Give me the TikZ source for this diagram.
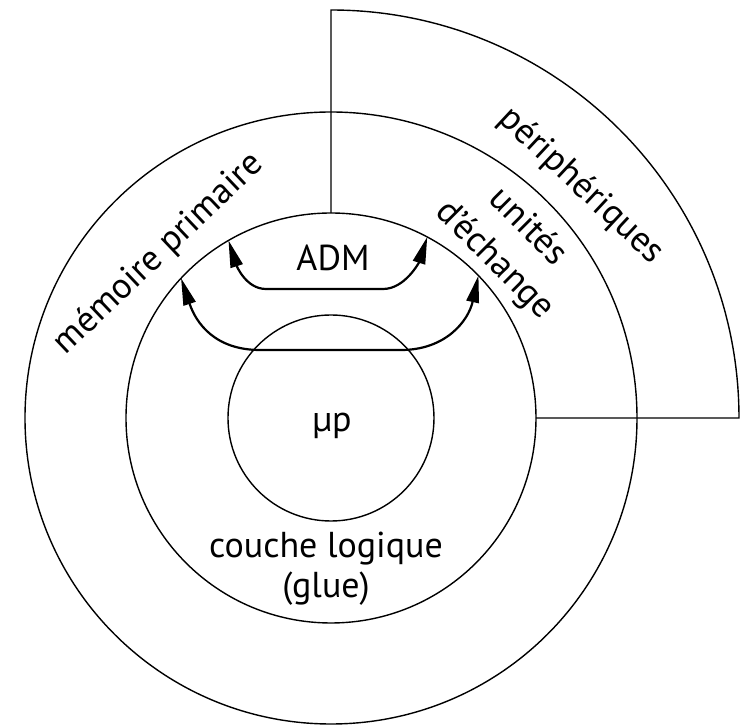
\documentclass[tikz,border=0pt]{standalone}
\usepackage{fontspec}
\setmainfont{PT Sans}
\usetikzlibrary{arrows.meta}
\begin{document}
\begin{tikzpicture}[x=1pt,y=1pt,
  ring/.style={circle, draw, line width=1.4pt, inner sep=0pt, outer sep=0pt},
  edge/.style={line width=1.4pt},
  flow/.style={line width=2.2pt,
    {Triangle[length=27pt,width=12.5pt]}-{Triangle[length=27pt,width=12.5pt]}},
  lbl/.style={font=\fontsize{36}{42}\selectfont, inner sep=0pt}
]
\useasboundingbox (-331,-307) rectangle (409,418);

% concentric layers
\node[ring, minimum size=612pt] (outer) at (0,0) {};
\node[ring, minimum size=410pt] (mid) at (0,0) {};
\node[ring, minimum size=206pt] (cpu) at (0,0) {};

% peripheral quarter sector
\coordinate (sectop) at (0,408);
\coordinate (secright) at (408,0);
\draw[edge] (mid.north) -- (sectop)
  arc[start angle=90, end angle=0, radius=408] -- (mid.east);

% transfer arrows
\draw[flow] (mid.120) .. controls +(8,-25) and +(-20,0) .. (-65,129)
  -- (52,129) .. controls +(22,0) and +(-8,-25) .. (mid.62);
\draw[flow] (mid.137.4) .. controls +(15,-45) and +(-45,0) .. (-71,68)
  -- (70,68) .. controls +(45,0) and +(-10,-45) .. (mid.44.2);

% labels
\node[lbl] (adm) at (2,160) {ADM};
\node[lbl, anchor=base] (up) at (1,-14) {µp};
\node[lbl, anchor=base] (glue1) at (-5,-140) {couche logique};
\node[lbl, anchor=base] (glue2) at (-5,-180) {(glue)};
\node[lbl, rotate=43.5] (mem) at (-172,164) {mémoire primaire};
\node[lbl, rotate=-45, align=center, font=\fontsize{36}{47}\selectfont] (ue) at (180,174) {unités\\d'échange};
\node[lbl, rotate=-43] (per) at (250,232) {périphériques};
\end{tikzpicture}
\end{document}
